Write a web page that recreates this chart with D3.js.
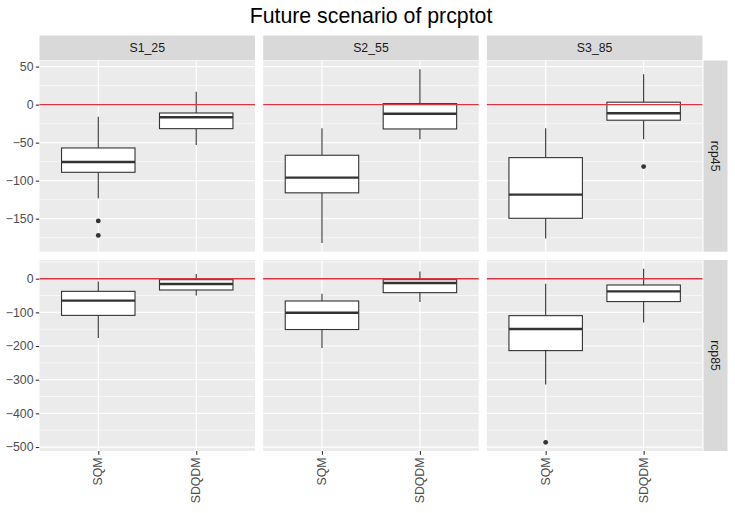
<!DOCTYPE html>
<html>
<head>
<meta charset="utf-8">
<script src="https://cdn.jsdelivr.net/npm/d3@7"></script>
<style>
  body { margin: 0; background: #fff; }
  text { font-family: "Liberation Sans", Arial, sans-serif; }
</style>
</head>
<body>
<div id="target"></div>
<script>
var width = 735,
    height = 513;

// facets and categories
var scenarios = ['S1_25', 'S2_55', 'S3_85'];
var rcps = ['rcp45', 'rcp85'];
var methods = ['SQM', 'SDQDM'];

// box stats, order: rcp -> scenario -> method
var boxRcp      = ['rcp45','rcp45','rcp45','rcp45','rcp45','rcp45','rcp85','rcp85','rcp85','rcp85','rcp85','rcp85'];
var boxScenario = ['S1_25','S1_25','S2_55','S2_55','S3_85','S3_85','S1_25','S1_25','S2_55','S2_55','S3_85','S3_85'];
var boxMethod   = ['SQM','SDQDM','SQM','SDQDM','SQM','SDQDM','SQM','SDQDM','SQM','SDQDM','SQM','SDQDM'];
var lowerWhisker = [-123, -53, -182, -45.5, -176, -45.5, -176, -50, -206, -69, -314, -130];
var q1           = [-89, -31.6, -116, -32, -149.5, -20.5, -109, -33.6, -151, -41.5, -213.6, -68];
var medians      = [-75.4, -16.6, -96, -12, -118.4, -11.3, -65.3, -15.8, -101, -13, -149.4, -37.6];
var q3           = [-57, -11, -66.6, 1.3, -69.7, 3.2, -37.6, -3, -66.3, -3, -109.8, -18.8];
var upperWhisker = [-15.8, 17, -31, 46.6, -31, 40, -8, 14, -44.5, 21.7, -14.8, 29.7];

// outliers
var outRcp      = ['rcp45', 'rcp45', 'rcp45', 'rcp85'];
var outScenario = ['S1_25', 'S1_25', 'S3_85', 'S3_85'];
var outMethod   = ['SQM', 'SQM', 'SDQDM', 'SQM'];
var outValue    = [-153, -172, -81.5, -486];

var refLine = 0;

var boxes = boxRcp.map(function (r, i) {
    return {
        rcp: r, scenario: boxScenario[i], method: boxMethod[i],
        lo: lowerWhisker[i], q1: q1[i], med: medians[i], q3: q3[i], hi: upperWhisker[i]
    };
});
var outliers = outRcp.map(function (r, i) {
    return {rcp: r, scenario: outScenario[i], method: outMethod[i], value: outValue[i]};
});

var svg = d3.select('#target').append('svg')
    .attr('width', width)
    .attr('height', height);

svg.append('rect').attr('width', width).attr('height', height).attr('fill', '#fff');

// layout
var panelLeft = 39.5, panelW = 215.5, panelGap = 8.2;
var rowTop = [60.5, 260], rowH = [191.2, 191];
var stripTop = 35.5, stripH = 24.5;
var stripRightX = 703.5, stripRightW = 24;
var labelSize = '12.3px';

var x = d3.scalePoint().domain(methods).range([0, panelW]).padding(0.6);
var boxW = x.step() * 0.75;

// free y scale per row, ggplot 5% expansion
var yScales = rcps.map(function (r, ri) {
    var vals = [];
    boxes.filter(function (d) { return d.rcp === r; }).forEach(function (d) {
        vals.push(d.lo, d.hi);
    });
    outliers.filter(function (d) { return d.rcp === r; }).forEach(function (d) {
        vals.push(d.value);
    });
    var ext = d3.extent(vals);
    var pad = (ext[1] - ext[0]) * 0.05;
    return d3.scaleLinear().domain([ext[0] - pad, ext[1] + pad])
        .range([rowTop[ri] + rowH[ri], rowTop[ri]]);
});

// title
svg.append('text')
    .attr('x', 371)
    .attr('y', 23)
    .attr('text-anchor', 'middle')
    .style('font-size', '21.3px')
    .attr('fill', '#000')
    .text('Future scenario of prcptot');

// top strips
scenarios.forEach(function (s, si) {
    var px = panelLeft + si * (panelW + panelGap);
    svg.append('rect')
        .attr('x', px).attr('y', stripTop)
        .attr('width', panelW).attr('height', stripH)
        .attr('fill', '#D9D9D9');
    svg.append('text')
        .attr('x', px + panelW / 2)
        .attr('y', stripTop + stripH / 2)
        .attr('dy', '0.35em')
        .attr('text-anchor', 'middle')
        .style('font-size', labelSize)
        .attr('fill', '#1A1A1A')
        .text(s);
});

rcps.forEach(function (r, ri) {
    var y = yScales[ri];
    var majors = y.ticks(5);
    var step = majors[1] - majors[0];
    var dom = y.domain();
    var minors = [];
    for (var k = -1; k < majors.length; k++) {
        var m = (k < 0 ? majors[0] - step : majors[k]) + step / 2;
        if (m >= dom[0] && m <= dom[1]) minors.push(m);
    }

    // right strip
    svg.append('rect')
        .attr('x', stripRightX).attr('y', rowTop[ri])
        .attr('width', stripRightW).attr('height', rowH[ri])
        .attr('fill', '#D9D9D9');
    svg.append('text')
        .attr('transform', 'translate(' + (stripRightX + stripRightW / 2) + ',' + (rowTop[ri] + rowH[ri] / 2) + ') rotate(90)')
        .attr('dy', '0.35em')
        .attr('text-anchor', 'middle')
        .style('font-size', labelSize)
        .attr('fill', '#1A1A1A')
        .text(r);

    // y axis on the left
    var yAxis = svg.append('g')
        .attr('transform', 'translate(' + panelLeft + ',0)')
        .call(d3.axisLeft(y).tickValues(majors).tickSize(3.7).tickPadding(2.3).tickFormat(d3.format('d')));
    yAxis.select('.domain').remove();
    yAxis.selectAll('line').attr('stroke', '#333333').attr('stroke-width', 1.1);
    yAxis.selectAll('text')
        .style('font-size', labelSize)
        .style('font-family', '"Liberation Sans", Arial, sans-serif')
        .attr('fill', '#4D4D4D');

    scenarios.forEach(function (s, si) {
        var px = panelLeft + si * (panelW + panelGap);
        var g = svg.append('g').attr('transform', 'translate(' + px + ',0)');

        g.append('rect')
            .attr('x', 0).attr('y', rowTop[ri])
            .attr('width', panelW).attr('height', rowH[ri])
            .attr('fill', '#EBEBEB');

        g.selectAll('line.minor')
            .data(minors)
            .enter().append('line')
            .attr('class', 'minor')
            .attr('x1', 0).attr('x2', panelW)
            .attr('y1', function (d) { return y(d); })
            .attr('y2', function (d) { return y(d); })
            .attr('stroke', '#fff').attr('stroke-width', 0.6);

        g.selectAll('line.major')
            .data(majors)
            .enter().append('line')
            .attr('class', 'major')
            .attr('x1', 0).attr('x2', panelW)
            .attr('y1', function (d) { return y(d); })
            .attr('y2', function (d) { return y(d); })
            .attr('stroke', '#fff').attr('stroke-width', 1.2);

        g.selectAll('line.vmajor')
            .data(methods)
            .enter().append('line')
            .attr('class', 'vmajor')
            .attr('x1', function (d) { return x(d); })
            .attr('x2', function (d) { return x(d); })
            .attr('y1', rowTop[ri]).attr('y2', rowTop[ri] + rowH[ri])
            .attr('stroke', '#fff').attr('stroke-width', 1.2);

        var pb = boxes.filter(function (d) { return d.rcp === r && d.scenario === s; });
        var bg = g.selectAll('g.box')
            .data(pb)
            .enter().append('g')
            .attr('class', 'box');

        bg.append('line')
            .attr('x1', function (d) { return x(d.method); })
            .attr('x2', function (d) { return x(d.method); })
            .attr('y1', function (d) { return y(d.hi); })
            .attr('y2', function (d) { return y(d.q3); })
            .attr('stroke', '#333333').attr('stroke-width', 1.1);
        bg.append('line')
            .attr('x1', function (d) { return x(d.method); })
            .attr('x2', function (d) { return x(d.method); })
            .attr('y1', function (d) { return y(d.q1); })
            .attr('y2', function (d) { return y(d.lo); })
            .attr('stroke', '#333333').attr('stroke-width', 1.1);
        bg.append('rect')
            .attr('x', function (d) { return x(d.method) - boxW / 2; })
            .attr('y', function (d) { return y(d.q3); })
            .attr('width', boxW)
            .attr('height', function (d) { return y(d.q1) - y(d.q3); })
            .attr('fill', '#fff')
            .attr('stroke', '#333333').attr('stroke-width', 1.1);
        bg.append('line')
            .attr('x1', function (d) { return x(d.method) - boxW / 2; })
            .attr('x2', function (d) { return x(d.method) + boxW / 2; })
            .attr('y1', function (d) { return y(d.med); })
            .attr('y2', function (d) { return y(d.med); })
            .attr('stroke', '#333333').attr('stroke-width', 2.4);

        g.selectAll('circle')
            .data(outliers.filter(function (d) { return d.rcp === r && d.scenario === s; }))
            .enter().append('circle')
            .attr('cx', function (d) { return x(d.method); })
            .attr('cy', function (d) { return y(d.value); })
            .attr('r', 2.4)
            .attr('fill', '#333333');

        g.append('line')
            .attr('x1', 0).attr('x2', panelW)
            .attr('y1', y(refLine)).attr('y2', y(refLine))
            .attr('stroke', '#D93344').attr('stroke-width', 1.4);

        // x axis only on the bottom row
        if (ri === rcps.length - 1) {
            var bottom = rowTop[ri] + rowH[ri];
            var xa = g.append('g')
                .attr('transform', 'translate(0,' + bottom + ')')
                .call(d3.axisBottom(x).tickSize(3.7).tickPadding(0));
            xa.select('.domain').remove();
            xa.selectAll('line').attr('stroke', '#333333').attr('stroke-width', 1.1);
            xa.selectAll('text')
                .attr('transform', 'translate(0,6.5) rotate(-90)')
                .attr('x', 0).attr('y', 0)
                .attr('dy', '0.3em')
                .attr('text-anchor', 'end')
                .style('font-size', labelSize)
                .style('font-family', '"Liberation Sans", Arial, sans-serif')
                .attr('fill', '#4D4D4D');
        }
    });
});
</script>
</body>
</html>
